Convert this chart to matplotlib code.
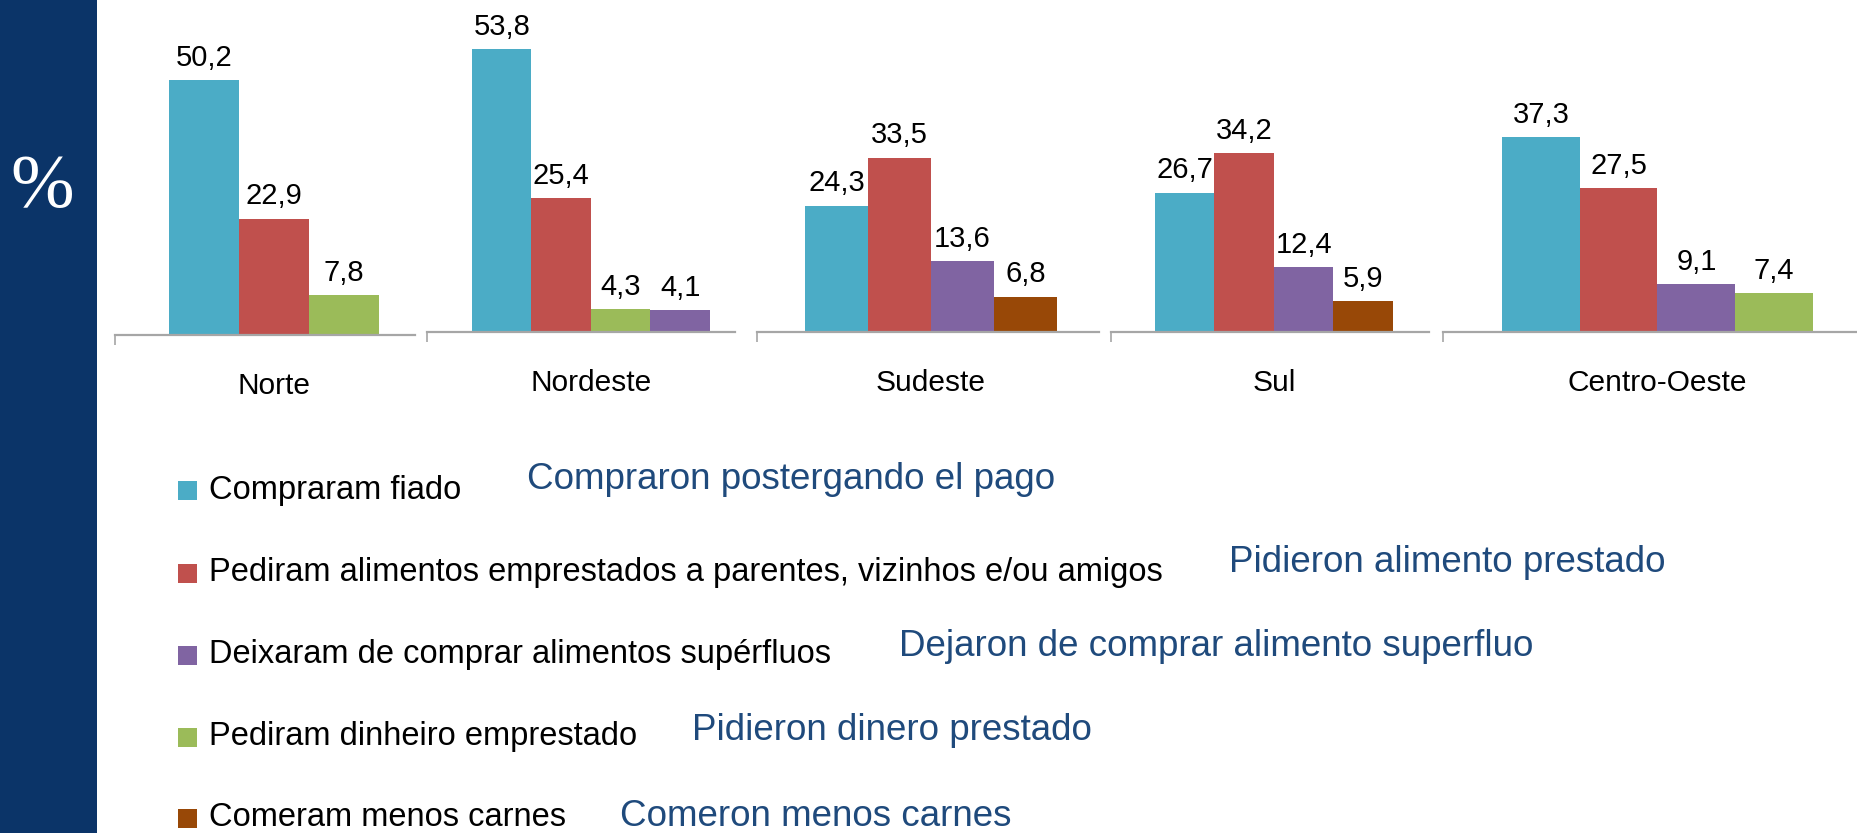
import numpy as np
import matplotlib
matplotlib.use("Agg")
import matplotlib.pyplot as plt
from matplotlib.patches import Rectangle

# ---- data ----
regions = ["Norte", "Nordeste", "Sudeste", "Sul", "Centro-Oeste"]
series_pt = ["Compraram fiado",
             "Pediram alimentos emprestados a parentes, vizinhos e/ou amigos",
             "Deixaram de comprar alimentos supérfluos",
             "Pediram dinheiro emprestado",
             "Comeram menos carnes"]
series_es = ["Compraron postergando el pago",
             "Pidieron alimento prestado",
             "Dejaron de comprar alimento superfluo",
             "Pidieron dinero prestado",
             "Comeron menos carnes"]

fiado      = [50.2, 53.8, 24.3, 26.7, 37.3]
alimentos  = [22.9, 25.4, 33.5, 34.2, 27.5]
superfluos = [None, 4.1, 13.6, 12.4, 9.1]
dinheiro   = [7.8, 4.3, None, None, 7.4]
carnes     = [None, None, 6.8, 5.9, None]
values = [fiado, alimentos, superfluos, dinheiro, carnes]

# order of the bars inside each region (index into series)
bar_order = [[0, 1, 3], [0, 1, 3, 2], [0, 1, 2, 4], [0, 1, 2, 4], [0, 1, 2, 3]]

colors = ["#4BACC6", "#C0504D", "#8064A2", "#9BBB59", "#984807"]

# ---- layout (pixels of the 1858x833 canvas) ----
W, H = 1858, 833
panel_left  = [115, 427, 757, 1111, 1443]
panel_right = [415, 735, 1099, 1429, 1873]
baseline    = [335, 332, 332, 332, 332]
px_per_unit = [5.08, 5.26, 5.2, 5.22, 5.22]
bar_start   = [169, 472, 805, 1155, 1502]
bar_w       = [70, 59.5, 63, 59.5, 77.75]
YMAX = 60

plt.rcParams['font.family'] = ['Liberation Sans', 'DejaVu Sans']

fig = plt.figure(figsize=(W / 100, H / 100), dpi=100)
fig.patch.set_facecolor("white")

# navy side bar with the % sign
fig.add_artist(Rectangle((0, 0), 97 / W, 1, transform=fig.transFigure,
                         facecolor="#0B3468", edgecolor="none"))
fig.text(42 / W, 1 - 188 / H, "%", color="white", fontsize=55,
         family=["Liberation Serif", "DejaVu Serif"], ha="center", va="center")

for i, reg in enumerate(regions):
    L, R = panel_left[i], panel_right[i]
    ax = fig.add_axes([L / W, (H - baseline[i]) / H, (R - L) / W,
                       YMAX * px_per_unit[i] / H])
    ax.set_xlim(L, R)
    ax.set_ylim(0, YMAX)
    for s in ["top", "right", "left"]:
        ax.spines[s].set_visible(False)
    ax.spines["bottom"].set_color("#A6A6A6")
    ax.spines["bottom"].set_linewidth(1.6)
    ax.set_yticks([])
    ax.set_xticks([])
    ax.set_xticks([L], minor=True)
    ax.tick_params(axis="x", which="minor", length=7.5, width=1.2,
                   color="#A6A6A6", direction="out")
    ax.patch.set_alpha(0)

    order = bar_order[i]
    for j, k in enumerate(order):
        v = values[k][i]
        x0 = bar_start[i] + j * bar_w[i]
        ax.bar(x0, v, width=bar_w[i], align="edge", color=colors[k],
               edgecolor="none")
        ax.annotate(f"{v:.1f}".replace(".", ","), xy=(x0 + bar_w[i] / 2, v),
                    xytext=(0, 6), textcoords="offset points",
                    ha="center", va="bottom", fontsize=21, color="black")

    cx = bar_start[i] + len(order) * bar_w[i] / 2
    ax.annotate(reg, xy=(cx, 0), xytext=(0, -37), textcoords="offset points",
                ha="center", va="center", fontsize=21.5, color="black",
                annotation_clip=False)

# ---- legend with Spanish translations ----
leg_y  = [490, 573, 655, 737, 818]
es_x   = [527, 1229, 899, 692, 620]
es_y   = [479, 562, 647, 731, 816]
for k in range(len(series_pt)):
    y = leg_y[k]
    fig.add_artist(Rectangle((178 / W, 1 - (y + 10) / H), 19 / W, 19 / H,
                             transform=fig.transFigure, facecolor=colors[k],
                             edgecolor="none"))
    fig.text(209 / W, 1 - y / H, series_pt[k], fontsize=23.5, color="black",
             ha="left", va="center")
    fig.text(es_x[k] / W, 1 - es_y[k] / H, series_es[k], fontsize=26.5,
             color="#1F4A7C", ha="left", va="center")

fig.savefig("out.png", dpi=100)
